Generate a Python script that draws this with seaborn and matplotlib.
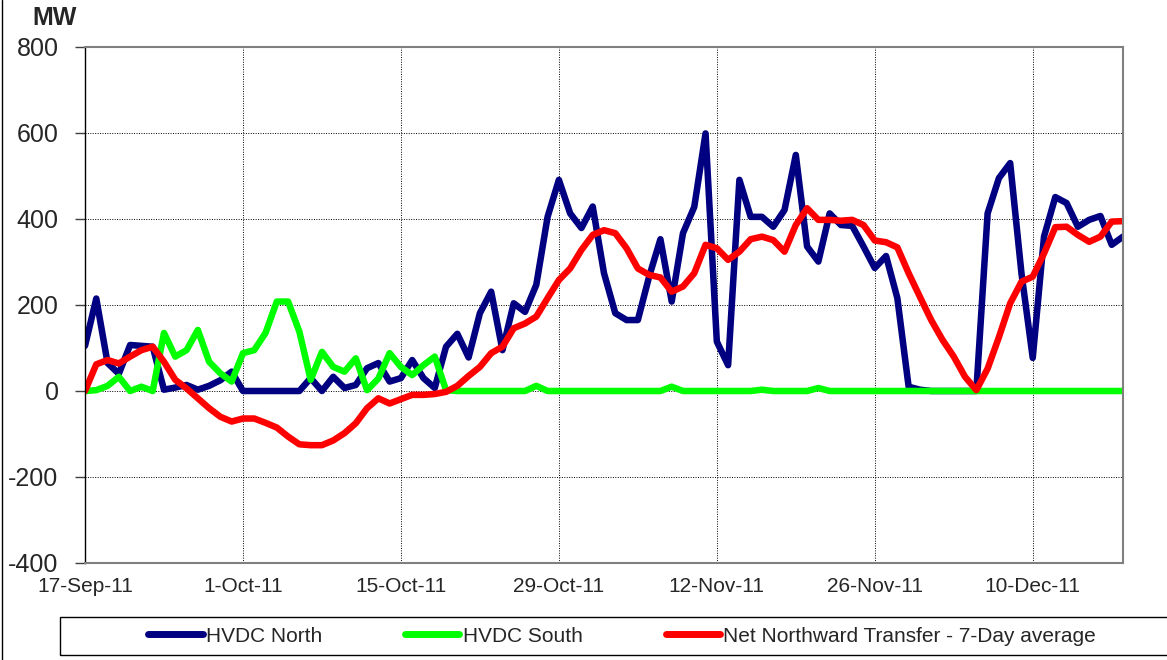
import pandas as pd
import matplotlib
matplotlib.use("Agg")
import matplotlib.pyplot as plt
import matplotlib.dates as mdates
from matplotlib.lines import Line2D
from matplotlib.patches import Rectangle
import seaborn as sns

# Daily values, 17-Sep-11 .. 18-Dec-11
start_date = "2011-09-17"
hvdc_north = [105, 215, 65, 40, 107, 105, 103, 3, 8, 14, 3, 12, 25, 45, 0, 0, 0, 0, 0, 0,
              30, 0, 33, 7, 14, 53, 65, 22, 30, 72, 30, 7, 103, 133, 78, 181, 231, 95, 204, 184,
              247, 405, 491, 413, 379, 429, 274, 181, 165, 165, 266, 353, 208, 367, 428, 599, 115, 60, 491, 405,
              405, 382, 421, 549, 336, 301, 413, 386, 384, 336, 286, 314, 216, 10, 3, 0, 0, 0, 0, 0,
              413, 495, 530, 274, 77, 359, 451, 437, 382, 398, 407, 340, 359]
hvdc_south = [0, 2, 12, 33, 0, 10, 0, 135, 80, 95, 142, 68, 41, 22, 88, 95, 135, 208, 208, 138,
              26, 91, 56, 45, 76, 2, 29, 88, 56, 37, 60, 80, 2, 0, 0, 0, 0, 0, 0, 0,
              12, 0, 0, 0, 0, 0, 0, 0, 0, 0, 0, 0, 10, 0, 0, 0, 0, 0, 0, 0,
              3, 0, 0, 0, 0, 7, 0, 0, 0, 0, 0, 0, 0, 0, 0, 0, 0, 0, 0, 0,
              0, 0, 0, 0, 0, 0, 0, 0, 0, 0, 0, 0, 0]
net_north_7day = [0, 62, 72, 64, 80, 95, 103, 68, 26, 6, -17, -40, -60, -71, -64, -64, -74, -85, -106, -124,
                  -126, -126, -115, -98, -75, -40, -17, -29, -19, -9, -9, -7, -2, 12, 35, 56, 88, 103, 146, 157,
                  173, 216, 258, 285, 328, 363, 374, 367, 332, 285, 270, 264, 231, 243, 274, 340, 332, 305, 324, 353,
                  359, 351, 324, 386, 425, 398, 398, 396, 398, 386, 350, 346, 334, 274, 219, 165, 119, 80, 33, 2,
                  52, 125, 204, 254, 266, 320, 381, 382, 363, 347, 359, 394, 395]

series_names = ["HVDC North", "HVDC South", "Net Northward Transfer - 7-Day average"]
series_colors = ["#000080", "#00FF00", "#FF0000"]

dates = pd.date_range(start_date, periods=len(hvdc_north), freq="D")
df = pd.DataFrame({"date": dates,
                   series_names[0]: hvdc_north,
                   series_names[1]: hvdc_south,
                   series_names[2]: net_north_7day})

sns.set_style("white")
plt.rcParams["font.family"] = ["Liberation Sans", "DejaVu Sans"]
plt.rcParams["axes.unicode_minus"] = False

fig = plt.figure(figsize=(11.67, 6.6), dpi=100)
ax = fig.add_axes([85 / 1167, 1 - 563 / 660, (1123 - 85) / 1167, (563 - 47) / 660])

for name, col in zip(series_names, series_colors):
    sns.lineplot(data=df, x="date", y=name, color=col, linewidth=4.7, ax=ax, legend=False)

ax.set_xlim(dates[0], dates[-1])
ax.set_ylim(-400, 800)
ax.set_yticks(range(-400, 801, 200))
ax.set_xticks(pd.date_range(start_date, dates[-1], freq="14D"))
ax.xaxis.set_major_formatter(mdates.DateFormatter("%-d-%b-%y"))
ax.set_xlabel("")
ax.set_ylabel("")

ax.grid(True, color="black", linestyle=(0, (1, 1.5)), linewidth=0.7)
ax.tick_params(axis="y", labelsize=18, length=7, width=1, color="#404040", pad=12, left=True)
ax.tick_params(axis="x", labelsize=15, length=0, pad=10)

for side in ["top", "right", "bottom"]:
    ax.spines[side].set_color("#808080")
    ax.spines[side].set_linewidth(1.5)
ax.spines["left"].set_color("black")
ax.spines["left"].set_linewidth(1)

fig.text(32 / 1167, 1 - 18 / 660, "MW", fontsize=18, fontweight="bold", va="center", ha="left")

# legend box and outer border
fig.add_artist(Rectangle((60 / 1167, 1 - 655 / 660), 1.2, 38 / 660, transform=fig.transFigure,
                         fill=False, edgecolor="black", linewidth=1))
fig.add_artist(Line2D([1.5 / 1167, 1.5 / 1167], [0, 1], transform=fig.transFigure, color="black", linewidth=1))

handles = [Line2D([0], [0], color=c, linewidth=5, solid_capstyle="round") for c in series_colors]
fig.legend(handles, series_names, ncol=3, frameon=False, fontsize=15,
           loc="center left", bbox_to_anchor=(138 / 1167, 1 - 636 / 660),
           borderpad=0, handlelength=2.6, handletextpad=0.15, columnspacing=4.0)

fig.savefig("out.png", dpi=100)
